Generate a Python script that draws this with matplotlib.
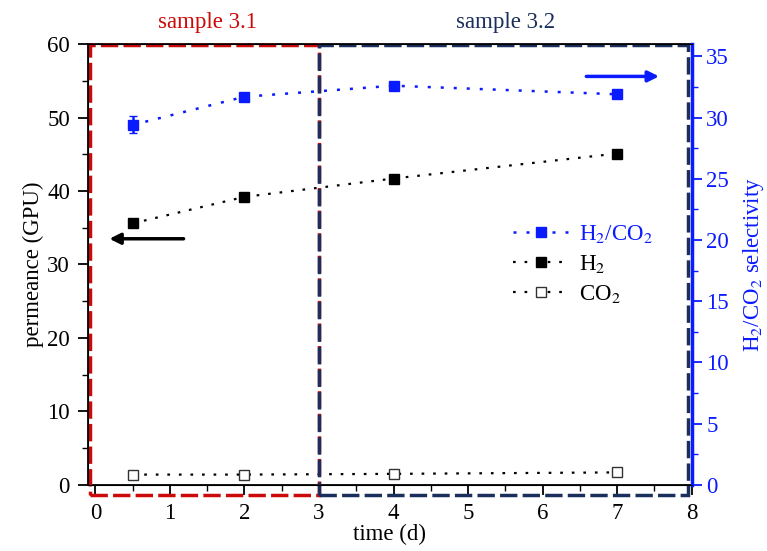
import matplotlib.pyplot as plt
from matplotlib.patches import Rectangle
from matplotlib.lines import Line2D
from matplotlib.ticker import MultipleLocator

plt.rcParams['font.family'] = ['Liberation Serif', 'DejaVu Serif']
plt.rcParams['mathtext.fontset'] = 'stix'

days = [0.5, 2, 4, 7]
selectivity = [29.4, 31.7, 32.6, 31.9]
selectivity_err = [0.7, 0.3, 0.3, 0.2]
h2 = [35.6, 39.2, 41.7, 45.1]
co2 = [1.4, 1.4, 1.5, 1.7]

blue = '#0a1bff'
red = '#cc0a0a'
navy = '#1a2f5e'
fs = 16.5
dots = (0, (1.2, 4))

fig = plt.figure(figsize=(7.67, 5.51), dpi=100)
ax = fig.add_axes([0.1147, 0.12, 0.787, 0.80])
ax2 = ax.twinx()

ax.plot(days, h2, ls=dots, color='black', marker='s', ms=7, lw=1.6)
ax.plot(days, co2, ls=dots, color='black', marker='s', ms=7, mfc='white', mec='#333333', lw=1.6)
ax2.errorbar(days, selectivity, yerr=selectivity_err, ls=dots, color=blue, marker='s', ms=7,
             lw=1.8, capsize=3)

ax.set_xlim(-0.1, 8.0)
ax.set_ylim(0, 60)
ax2.set_ylim(0, 36)

# sample boxes
ax.add_patch(Rectangle((-0.07, -1.35), 3.07, 61.2, fill=False, ec=red, lw=2.5,
                       ls=(0, (5, 1.5)), clip_on=False, zorder=5))
ax.add_patch(Rectangle((3, -1.35), 4.95, 61.2, fill=False, ec=navy, lw=2.5,
                       ls=(0, (5, 1.5)), clip_on=False, zorder=5))
ax.text(1.5, 1.025, 'sample 3.1', color=red, fontsize=fs, ha='center', va='bottom',
        transform=ax.get_xaxis_transform())
ax.text(5.5, 1.025, 'sample 3.2', color=navy, fontsize=fs, ha='center', va='bottom',
        transform=ax.get_xaxis_transform())

# axis arrows
ax.annotate('', xy=(0.15, 33.5), xytext=(1.22, 33.5),
            arrowprops=dict(arrowstyle='-|>', color='black', lw=2.5, mutation_scale=16))
ax.annotate('', xy=(7.6, 55.6), xytext=(6.55, 55.6),
            arrowprops=dict(arrowstyle='-|>', color=blue, lw=2.5, mutation_scale=16))

ax.xaxis.set_major_locator(MultipleLocator(1))
ax.xaxis.set_minor_locator(MultipleLocator(0.5))
ax.yaxis.set_major_locator(MultipleLocator(10))
ax.yaxis.set_minor_locator(MultipleLocator(5))
ax2.yaxis.set_major_locator(MultipleLocator(5))
ax2.yaxis.set_minor_locator(MultipleLocator(2.5))

ax.tick_params(which='major', length=7, width=1.3, labelsize=fs)
ax.tick_params(which='minor', length=4, width=1.0)
ax.tick_params(axis='x', which='major', pad=6)
ax.tick_params(axis='y', which='major', pad=6)
ax2.tick_params(which='major', length=7, width=1.3, labelsize=fs, colors=blue)
ax2.tick_params(which='minor', length=4, width=1.0, colors=blue)
for s in ax.spines.values():
    s.set_linewidth(1.3)
ax2.spines['right'].set_color(blue)
ax2.spines['right'].set_linewidth(2.5)

ax.set_xlabel('time (d)', fontsize=fs, labelpad=0)
ax.set_ylabel('permeance (GPU)', fontsize=fs, labelpad=2)
ax2.set_ylabel('H$_2$/CO$_2$ selectivity', fontsize=fs, color=blue, labelpad=9)

handles = [
    Line2D([], [], ls=dots, color=blue, marker='s', ms=7, lw=1.8),
    Line2D([], [], ls=dots, color='black', marker='s', ms=7, lw=1.6),
    Line2D([], [], ls=dots, color='black', marker='s', ms=7, mfc='white', mec='#333333', lw=1.6),
]
labels = ['H$_2$/CO$_2$', 'H$_2$', 'CO$_2$']
leg = ax.legend(handles, labels, loc='upper left', bbox_to_anchor=(0.67, 0.64),
                frameon=False, fontsize=fs, handlelength=2.4, labelspacing=0.35,
                handletextpad=0.5)
leg.get_texts()[0].set_color(blue)

fig.savefig('out.png', dpi=100)
